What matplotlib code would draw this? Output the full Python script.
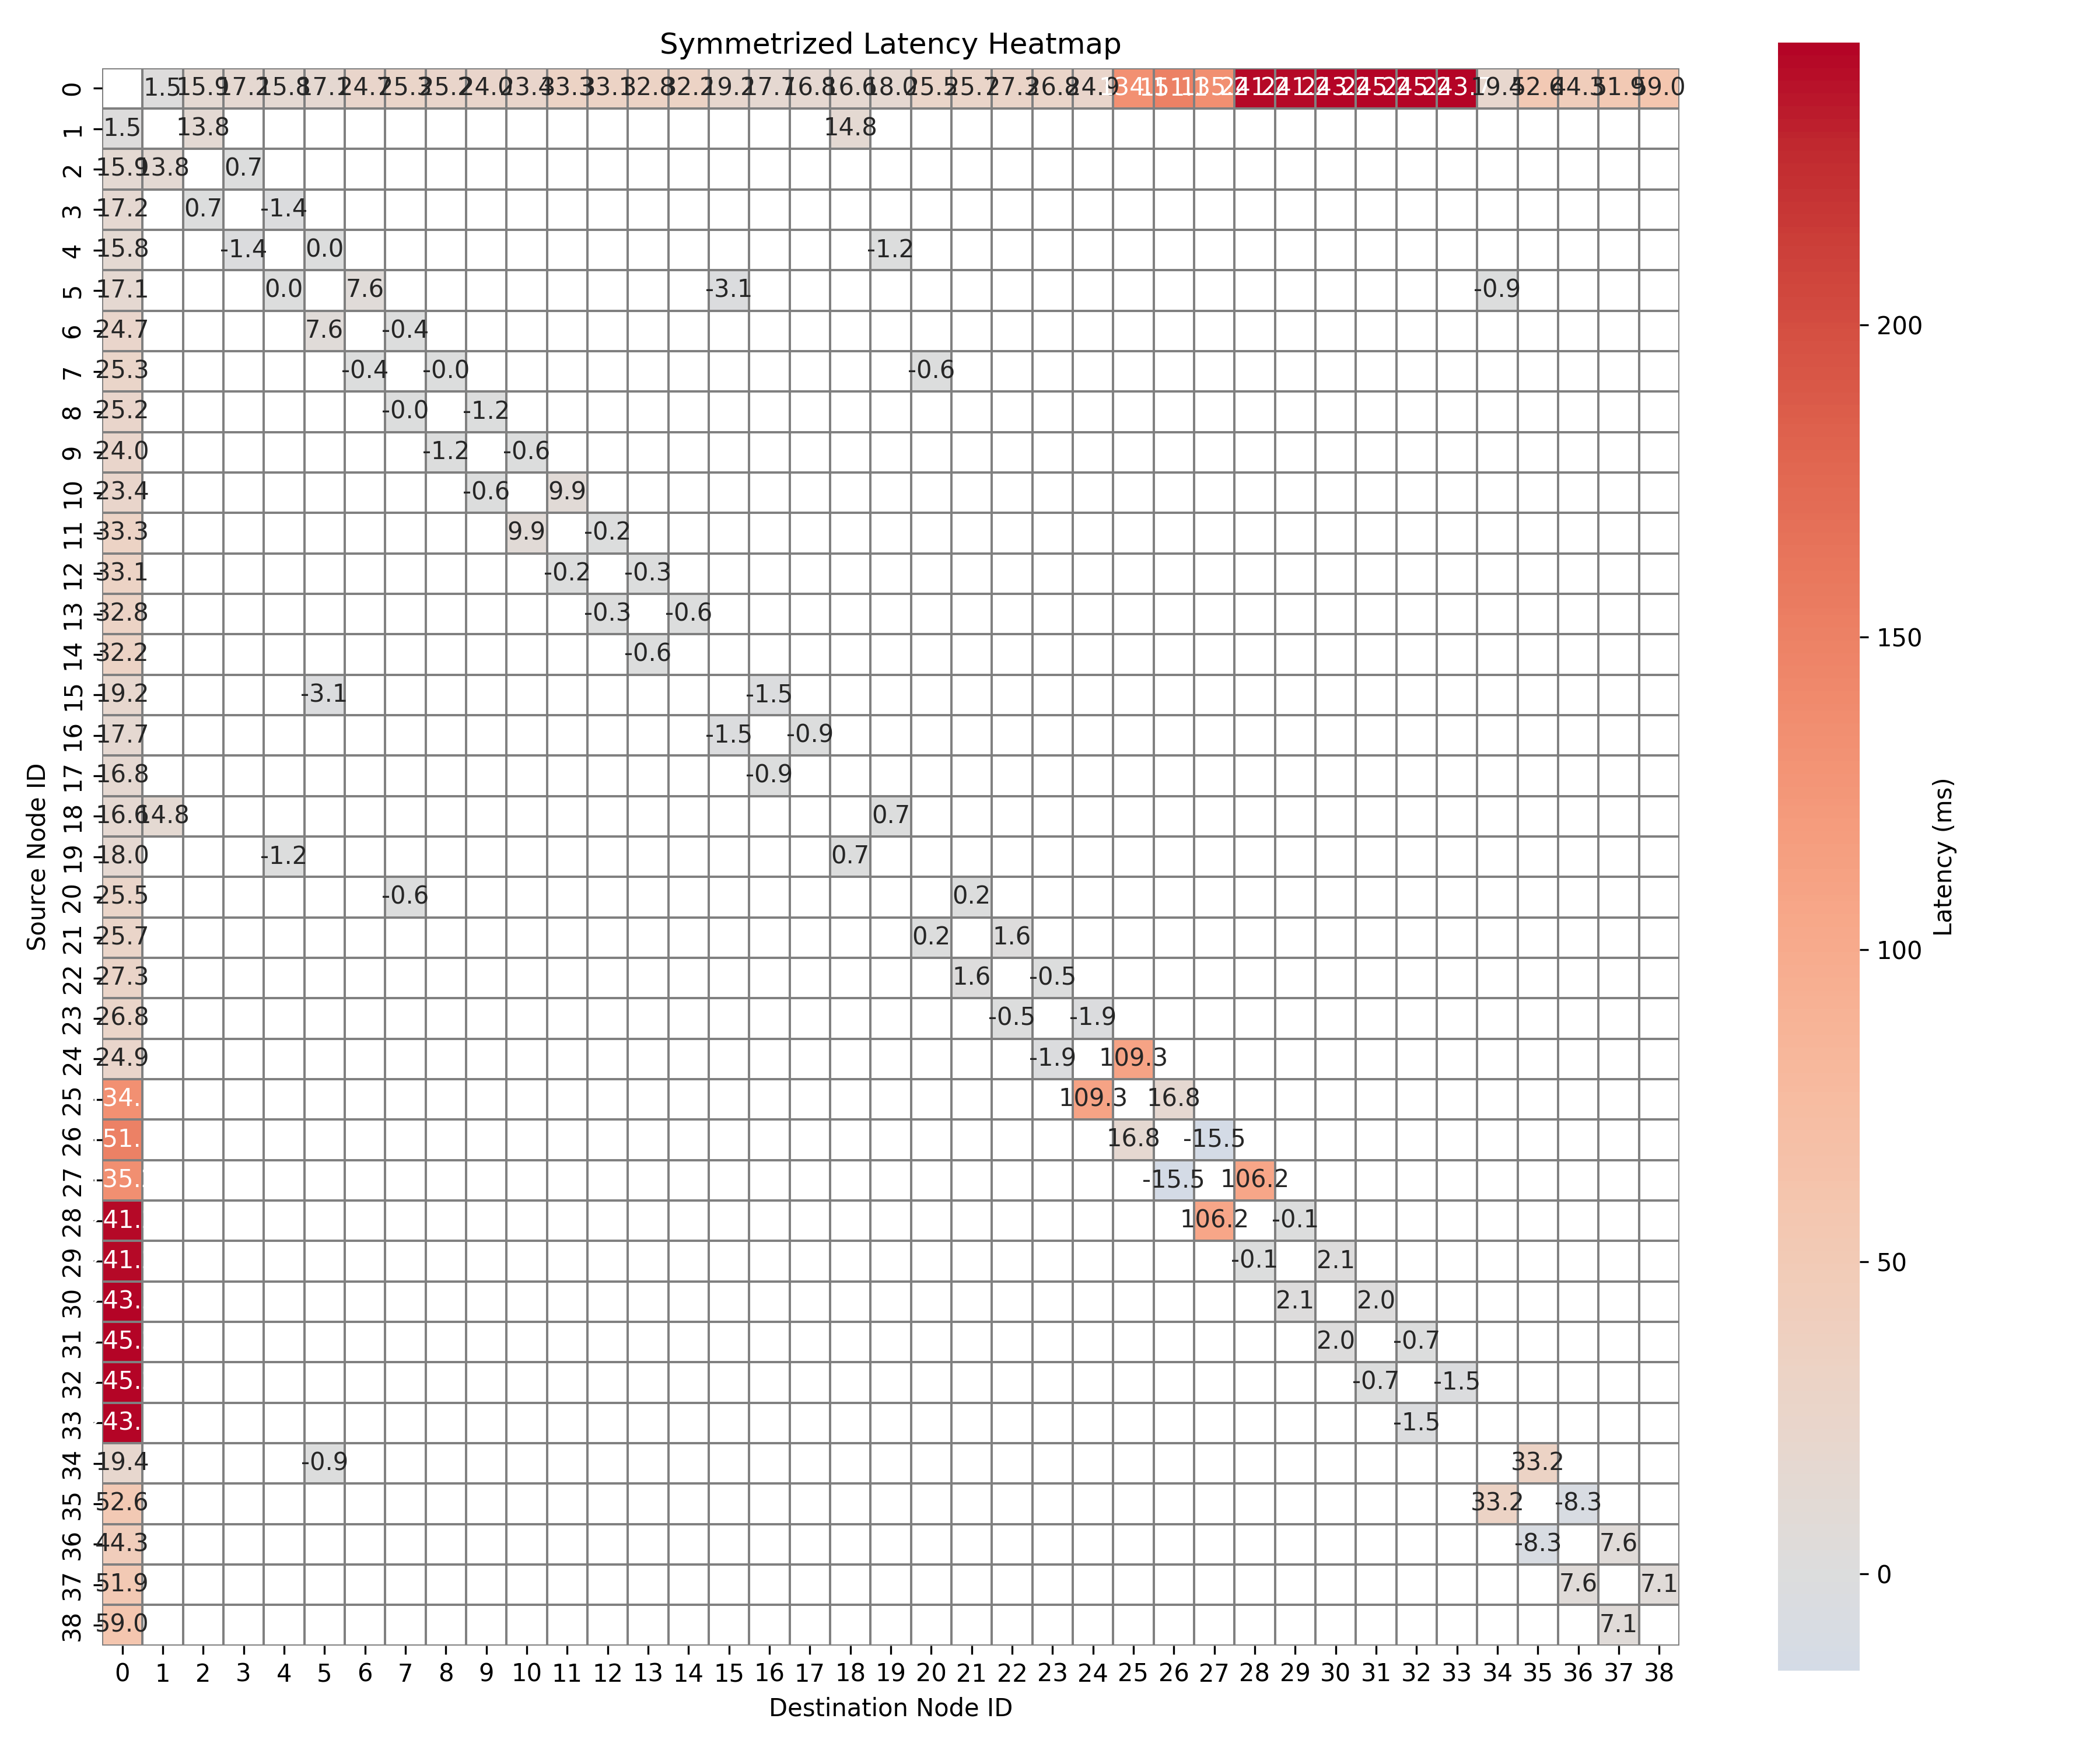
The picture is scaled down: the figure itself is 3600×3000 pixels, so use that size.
import numpy as np
import matplotlib
matplotlib.use("Agg")
import matplotlib.pyplot as plt
import seaborn as sns

n_nodes = 39

# latency between node 0 and nodes 1..38
node0_latency = [1.5, 15.9, 17.2, 15.8, 17.1, 24.7, 25.3, 25.2, 24.0, 23.4,
                 33.3, 33.1, 32.8, 32.2, 19.2, 17.7, 16.8, 16.6, 18.0, 25.5,
                 25.7, 27.3, 26.8, 24.9, 134.1, 151.1, 135.2, 241.2, 241.2, 243.2,
                 245.2, 245.2, 243.7, 19.4, 52.6, 44.3, 51.9, 59.0]

# other measured links (src, dst, latency)
link_src = [1, 1, 2, 3, 4, 4, 5, 5, 5, 6, 7, 7, 8, 9, 10, 11, 12, 13, 15, 16,
            18, 20, 21, 22, 23, 24, 25, 26, 27, 28, 29, 30, 31, 32, 34, 35, 36, 37]
link_dst = [2, 18, 3, 4, 5, 19, 6, 15, 34, 7, 8, 20, 9, 10, 11, 12, 13, 14, 16, 17,
            19, 21, 22, 23, 24, 25, 26, 27, 28, 29, 30, 31, 32, 33, 35, 36, 37, 38]
link_val = [13.8, 14.8, 0.7, -1.4, 0.0, -1.2, 7.6, -3.1, -0.9, -0.4, -0.04, -0.6,
            -1.2, -0.6, 9.9, -0.2, -0.3, -0.6, -1.5, -0.9,
            0.7, 0.2, 1.6, -0.5, -1.9, 109.3, 16.8, -15.5, 106.2, -0.1, 2.1, 2.0,
            -0.7, -1.5, 33.2, -8.3, 7.6, 7.1]

mat = np.full((n_nodes, n_nodes), np.nan)
for j, v in enumerate(node0_latency):
    mat[0, j + 1] = v
    mat[j + 1, 0] = v
for s, d, v in zip(link_src, link_dst, link_val):
    mat[s, d] = v
    mat[d, s] = v

fig, ax = plt.subplots(figsize=(12, 10))
sns.heatmap(mat, ax=ax, cmap="coolwarm", center=0, annot=True, fmt=".1f",
            linewidths=0.5, linecolor="gray", square=True,
            cbar_kws={"label": "Latency (ms)"})
ax.set_title("Symmetrized Latency Heatmap")
ax.set_xlabel("Destination Node ID")
ax.set_ylabel("Source Node ID")
plt.tight_layout()
plt.savefig("out.png", dpi=300)
